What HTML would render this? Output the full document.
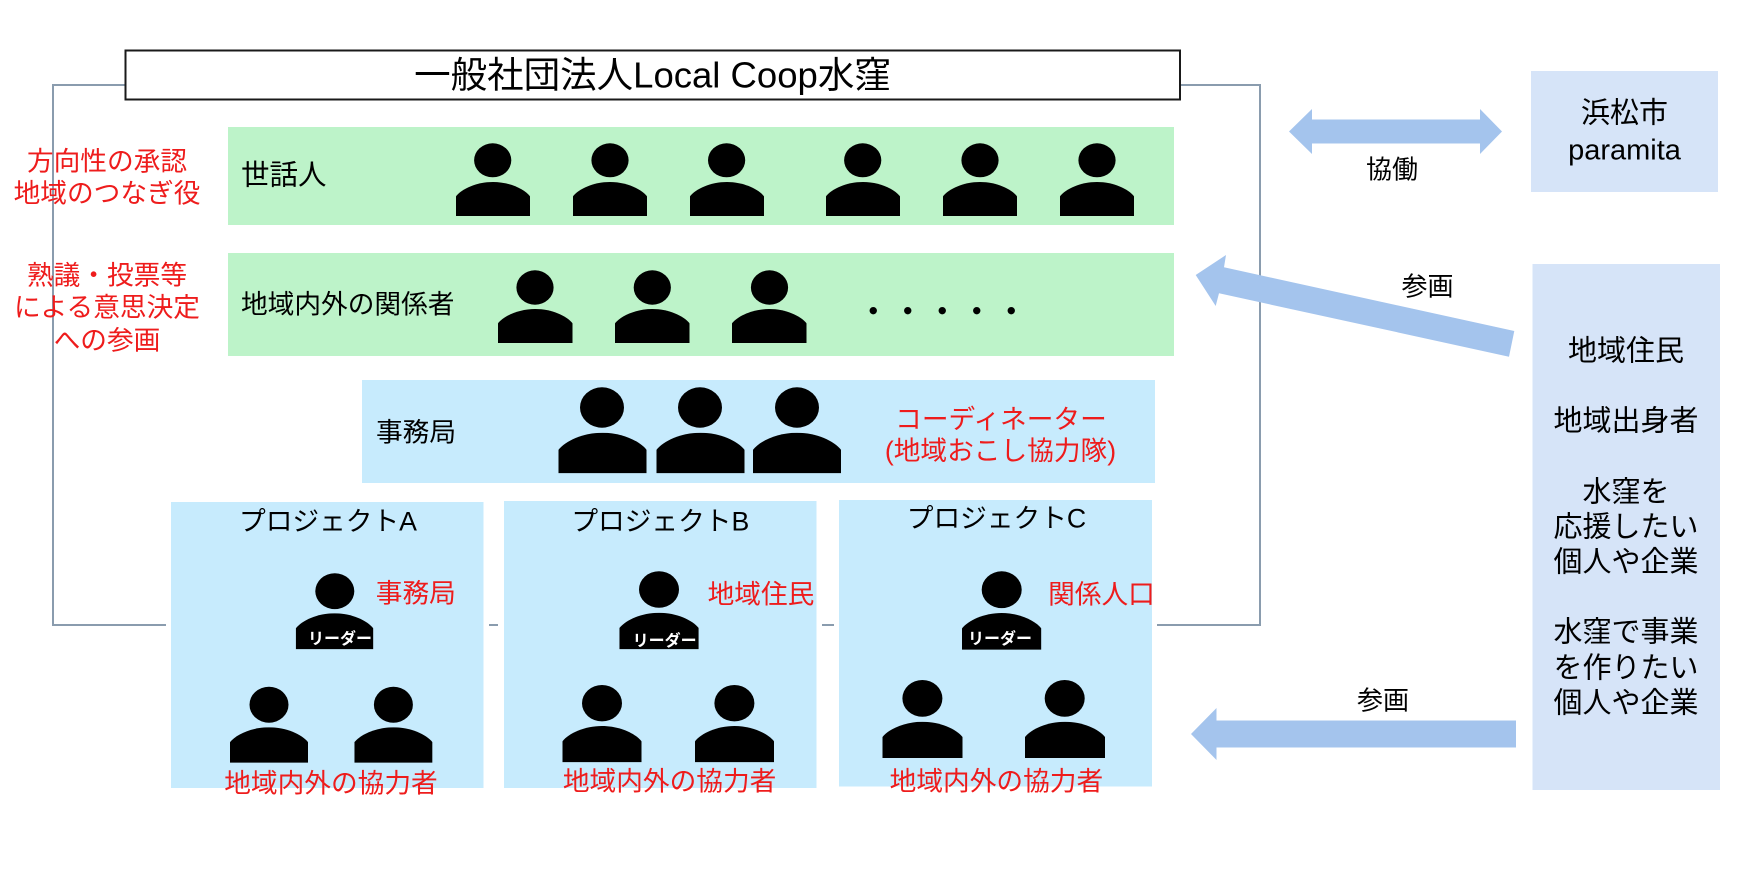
<!DOCTYPE html>
<html lang="ja">
<head>
<meta charset="utf-8">
<title>一般社団法人Local Coop水窪</title>
<style>
html,body{margin:0;padding:0;background:#fff;width:1750px;height:878px;overflow:hidden}
svg{display:block}
text{font-family:"Liberation Sans","Noto Sans CJK JP",sans-serif;text-anchor:middle;dominant-baseline:central;fill:#000;transform:translateY(1.5px)}
.r{fill:#ee1c1c}
.l{text-anchor:start}
.w{fill:#fff;font-weight:bold;font-size:16px}
</style>
</head>
<body>
<svg width="1750" height="878" viewBox="0 0 1750 878" xmlns="http://www.w3.org/2000/svg">
<defs>
<symbol id="b" viewBox="0 0 100 100" preserveAspectRatio="none">
<path d="M0 100V42C8 20 28 0 50 0C72 0 92 20 100 42V100Z"/>
</symbol>
</defs>

<!-- outer frame -->
<g fill="none" stroke="#8a9cae" stroke-width="2">
<path d="M125 85H53V625H166"/>
<path d="M489 625H498"/>
<path d="M822 625H834"/>
<path d="M1157 625H1260V85H1180"/>
</g>

<!-- title -->
<rect x="125.500" y="50.500" width="1054.500" height="49" fill="#fff" stroke="#1a1a1a" stroke-width="2"/>
<text x="652.500" y="73.500" font-size="36.500">一般社団法人Local Coop水窪</text>

<!-- panels -->
<rect x="228" y="127" width="946" height="98" fill="#bdf3c9"/>
<rect x="228" y="253" width="946" height="103" fill="#bdf3c9"/>
<rect x="362" y="380" width="793" height="103" fill="#c7ebfd"/>
<rect x="171" y="502" width="312.500" height="286" fill="#c7ebfd"/>
<rect x="504" y="501" width="312.500" height="287" fill="#c7ebfd"/>
<rect x="839" y="500" width="313" height="286.500" fill="#c7ebfd"/>
<rect x="1531" y="71" width="187" height="121" fill="#d6e4f8"/>
<rect x="1532.500" y="264" width="187.500" height="526" fill="#d6e4f8"/>

<!-- arrows -->
<g fill="#a4c4ed">
<path d="M1289 131.500L1312 109V119.500H1480V109L1502 131.500L1480 154V143.500H1312V154Z"/>
<path d="M1195.700 275L1226 255L1224 267.300L1514.300 331L1509 356.700L1219 293.300L1215.700 306Z"/>
<path d="M1191 734L1216.500 708V720.500H1516V747.500H1216.500V760Z"/>
</g>

<!-- row 1 people -->
<g>
<ellipse cx="492.700" cy="160.300" rx="18.600" ry="17"/><use href="#b" x="456" y="182" width="74" height="34"/>
<ellipse cx="610" cy="160.300" rx="18.600" ry="17"/><use href="#b" x="573" y="182" width="74" height="34"/>
<ellipse cx="726.600" cy="160.300" rx="18.600" ry="17"/><use href="#b" x="690" y="182" width="74" height="34"/>
<ellipse cx="862.700" cy="160.300" rx="18.600" ry="17"/><use href="#b" x="826" y="182" width="74" height="34"/>
<ellipse cx="980" cy="160.300" rx="18.600" ry="17"/><use href="#b" x="943" y="182" width="74" height="34"/>
<ellipse cx="1097" cy="160.300" rx="18.600" ry="17"/><use href="#b" x="1060" y="182" width="74" height="34"/>
<!-- row 2 people -->
<ellipse cx="535" cy="287.500" rx="18.600" ry="17.200"/><use href="#b" x="498" y="309" width="74.500" height="34"/>
<ellipse cx="652.300" cy="287.500" rx="18.600" ry="17.200"/><use href="#b" x="615" y="309" width="74.500" height="34"/>
<ellipse cx="769.500" cy="287.500" rx="18.600" ry="17.200"/><use href="#b" x="732" y="309" width="74.500" height="34"/>
<!-- office people -->
<ellipse cx="602" cy="407.500" rx="22" ry="20.200"/><use href="#b" x="558.500" y="432.700" width="88" height="40.600"/>
<ellipse cx="700" cy="407.500" rx="22" ry="20.200"/><use href="#b" x="656.500" y="432.700" width="88" height="40.600"/>
<ellipse cx="797" cy="407.500" rx="22" ry="20.200"/><use href="#b" x="753" y="432.700" width="88" height="40.600"/>
<!-- project A -->
<ellipse cx="334.800" cy="591.200" rx="19.500" ry="17.900"/><use href="#b" x="295.800" y="613.300" width="77.500" height="36"/>
<ellipse cx="269" cy="704.700" rx="19.500" ry="18"/><use href="#b" x="230" y="727.300" width="78" height="35.400"/>
<ellipse cx="393.400" cy="704.700" rx="19.500" ry="18"/><use href="#b" x="354.400" y="727.300" width="78" height="35.400"/>
<!-- project B -->
<ellipse cx="659" cy="589.500" rx="20" ry="18.200"/><use href="#b" x="619.400" y="612.700" width="79.300" height="36.500"/>
<ellipse cx="602" cy="703.200" rx="20" ry="18.200"/><use href="#b" x="562.500" y="726" width="79" height="36.300"/>
<ellipse cx="734.400" cy="703.200" rx="20" ry="18.200"/><use href="#b" x="695" y="726" width="79" height="36.300"/>
<!-- project C -->
<ellipse cx="1001.700" cy="589.700" rx="20" ry="18.400"/><use href="#b" x="962" y="613" width="79.300" height="36.700"/>
<ellipse cx="922.400" cy="698.400" rx="20" ry="18.400"/><use href="#b" x="882.500" y="721.700" width="80" height="36.300"/>
<ellipse cx="1064.700" cy="698.400" rx="20" ry="18.400"/><use href="#b" x="1025" y="721.700" width="80" height="36.300"/>
</g>

<!-- left labels -->
<g font-size="26.700">
<text class="r" x="107" y="160">方向性の承認</text>
<text class="r" x="107" y="192">地域のつなぎ役</text>
<text class="r" x="107" y="274">熟議・投票等</text>
<text class="r" x="107" y="306">による意思決定</text>
<text class="r" x="107" y="339">への参画</text>
<text class="l" x="241" y="174" font-size="28.500">世話人</text>
<text class="l" x="241" y="303">地域内外の関係者</text>
<text class="l" x="376" y="431">事務局</text>
<text class="r" x="1001" y="418">コーディネーター</text>
<text class="r" x="1000.500" y="449.500">(地域おこし協力隊)</text>
<text x="328" y="520">プロジェクトA</text>
<text x="660.300" y="520">プロジェクトB</text>
<text x="996.500" y="517">プロジェクトC</text>
<text class="r" x="415.800" y="592">事務局</text>
<text class="r" x="761" y="593">地域住民</text>
<text class="r" x="1101.500" y="593">関係人口</text>
<text class="r" x="331" y="782">地域内外の協力者</text>
<text class="r" x="669.600" y="780">地域内外の協力者</text>
<text class="r" x="996.400" y="780">地域内外の協力者</text>
<text x="1392" y="168" font-size="26">協働</text>
<text x="1427.500" y="285" font-size="26">参画</text>
<text x="1383" y="699" font-size="26">参画</text>
</g>
<text class="l" x="856" y="311.500" font-size="34.500">・・・・・</text>

<text class="w" x="340" y="638">リーダー</text>
<text class="w" x="664.600" y="640">リーダー</text>
<text class="w" x="1000" y="638">リーダー</text>

<!-- right labels -->
<g font-size="29">
<text x="1624.500" y="112">浜松市</text>
<text x="1624.500" y="149">paramita</text>
<text x="1626" y="350">地域住民</text>
<text x="1626" y="420">地域出身者</text>
<text x="1626" y="491">水窪を</text>
<text x="1626" y="526">応援したい</text>
<text x="1626" y="561">個人や企業</text>
<text x="1626" y="631">水窪で事業</text>
<text x="1626" y="667">を作りたい</text>
<text x="1626" y="702">個人や企業</text>
</g>
</svg>
</body>
</html>
